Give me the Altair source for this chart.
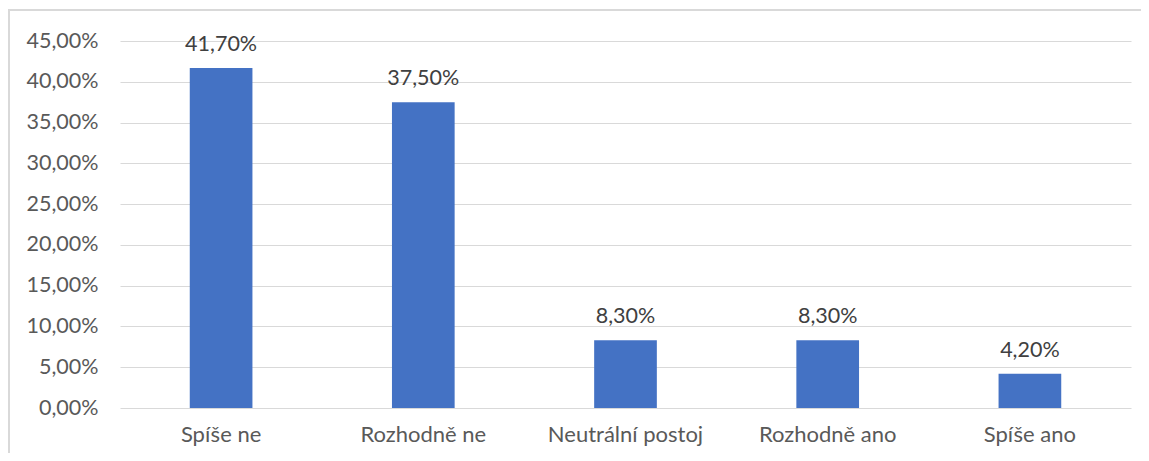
import altair as alt
import pandas as pd

categories = ["Spíše ne", "Rozhodně ne", "Neutrální postoj", "Rozhodně ano", "Spíše ano"]
values = [0.417, 0.375, 0.083, 0.083, 0.042]

df = pd.DataFrame({"cat": categories, "val": values})

FONT = "Lato"

x = alt.X("cat:N", sort=categories, title=None,
          scale=alt.Scale(paddingInner=0.69, paddingOuter=0.345),
          axis=alt.Axis(labelAngle=0, ticks=False, domain=False, labelPadding=16,
                        labelFontSize=22, labelColor="#595959", labelFont=FONT, grid=False))
y = alt.Y("val:Q", title=None,
          scale=alt.Scale(domain=[0, 0.45], nice=False),
          axis=alt.Axis(values=[i * 0.05 for i in range(10)], ticks=False, domain=False,
                        labelPadding=22, labelFontSize=21.5, labelColor="#595959", labelFont=FONT,
                        labelExpr="replace(format(datum.value, '.2%'), '.', ',')",
                        gridColor="#d9d9d9", gridWidth=1))

bars = alt.Chart(df).mark_bar(color="#4472C4").encode(x=x, y=y)

labels = alt.Chart(df).transform_calculate(
    lbl="replace(format(datum.val, '.2%'), '.', ',')"
).mark_text(baseline="alphabetic", dy=-17, fontSize=21.5, color="#404040", font=FONT).encode(
    x=alt.X("cat:N", sort=categories), y="val:Q", text="lbl:N")

border = alt.Chart(df).mark_rect(fill=None, stroke="#d9d9d9", strokeWidth=1.5).encode(
    x=alt.value(-111), x2=alt.value(1100), y=alt.value(-31), y2=alt.value(480))

chart = alt.layer(border, bars, labels).properties(
    width=1011, height=367,
    autosize=alt.AutoSizeParams(type="none"),
    padding={"left": 112, "top": 33, "right": 10, "bottom": 45},
    background="white",
).configure_view(stroke=None)

chart.save("out.html", embed_options={"renderer": "svg", "actions": False})
